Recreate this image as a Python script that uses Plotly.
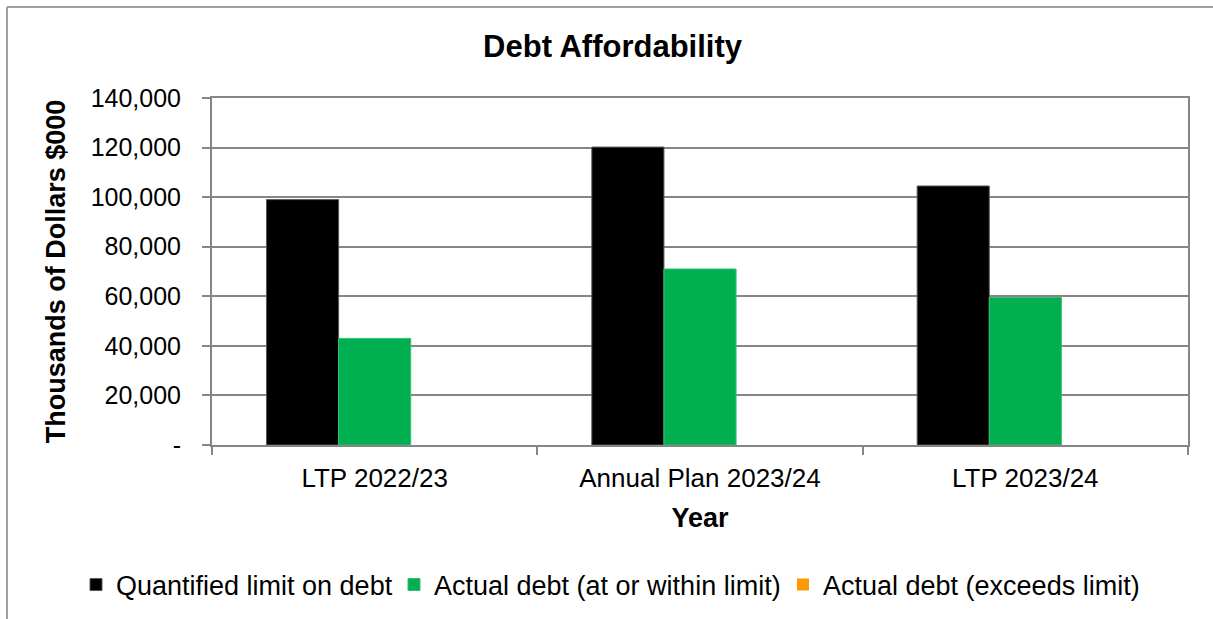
import plotly.graph_objects as go

# Debt affordability benchmark: limit vs. actual debt ($000)
years = ["LTP 2022/23", "Annual Plan 2023/24", "LTP 2023/24"]
limit_on_debt = [99000, 120200, 104500]
debt_within_limit = [43000, 71000, 59500]
debt_exceeds_limit = [0, 0, 0]

y_tick_vals = [0, 20000, 40000, 60000, 80000, 100000, 120000, 140000]
y_tick_text = ["-", "20,000", "40,000", "60,000", "80,000", "100,000", "120,000", "140,000"]

FONT = "Liberation Sans, Arial, sans-serif"
GRID = "#868686"

fig = go.Figure()
fig.add_trace(go.Bar(
    name="Quantified limit on debt", x=years, y=limit_on_debt, legend="legend",
    marker=dict(color="#000000", line=dict(color="#595959", width=1)),
))
fig.add_trace(go.Bar(
    name="Actual debt (at or within limit)", x=years, y=debt_within_limit, legend="legend2",
    marker=dict(color="#00B050", line=dict(color="#33C070", width=1)),
))
fig.add_trace(go.Bar(
    name="Actual debt (exceeds limit)", x=years, y=debt_exceeds_limit, legend="legend3",
    marker=dict(color="#FF9900", line=dict(color="#FF9900", width=0)),
))

W, H = 1213, 619
L, R, T, B = 212, 25, 98, 174
pw, ph = W - L - R, H - T - B

def px_x(p):
    return (p - L) / pw

def px_y(p):
    return (H - B - p) / ph

def legend_at(left_px):
    return dict(orientation="h", xref="container", yref="container",
                x=left_px / W, y=1 - 585 / H, xanchor="left", yanchor="middle",
                font=dict(size=27, family=FONT), itemwidth=30,
                bgcolor="rgba(0,0,0,0)", borderwidth=0)

frame = dict(color="#A0A0A0", width=2)

fig.update_layout(
    width=W, height=H,
    margin=dict(l=L, r=R, t=T, b=B),
    paper_bgcolor="white", plot_bgcolor="white",
    barmode="group", bargap=0.335, bargroupgap=0,
    font=dict(family=FONT, size=25, color="#000000"),
    title=dict(text="<b>Debt Affordability</b>", x=0.505, xref="container",
               y=1 - 46 / H, yref="container", xanchor="center", yanchor="middle",
               font=dict(size=31, family=FONT, color="#000000")),
    legend=legend_at(76),
    legend2=legend_at(394),
    legend3=legend_at(783),
    showlegend=True,
    shapes=[
        # outer chart frame (top and left edges)
        dict(type="line", xref="paper", yref="paper",
             x0=px_x(7), x1=px_x(W), y0=px_y(7), y1=px_y(7), line=frame, layer="below"),
        dict(type="line", xref="paper", yref="paper",
             x0=px_x(7), x1=px_x(7), y0=px_y(7), y1=px_y(H), line=frame, layer="below"),
    ],
)

fig.update_xaxes(
    title=dict(text="<b>Year</b>", font=dict(size=27, family=FONT), standoff=16),
    showline=True, linecolor=GRID, linewidth=2, mirror=True,
    ticks="outside", tickson="boundaries", ticklen=8, tickcolor=GRID, tickwidth=2,
    ticklabelstandoff=9,
    tickfont=dict(size=26, family=FONT),
    showgrid=False,
)
fig.update_yaxes(
    title=dict(text="<b>Thousands of Dollars $000</b>", font=dict(size=27, family=FONT), standoff=17),
    range=[0, 140000], tickvals=y_tick_vals, ticktext=y_tick_text,
    showline=True, linecolor=GRID, linewidth=2, mirror=True,
    ticks="outside", ticklen=8, tickcolor=GRID, tickwidth=2,
    ticklabelstandoff=16,
    tickfont=dict(size=25, family=FONT),
    showgrid=True, gridcolor=GRID, gridwidth=2, zeroline=False,
)

fig.write_html("out.html")
